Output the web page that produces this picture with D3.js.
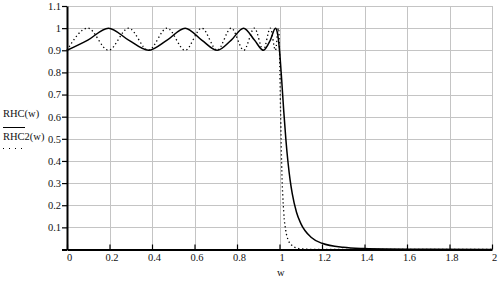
<!DOCTYPE html>
<html>
<head>
<meta charset="utf-8">
<script src="https://cdn.jsdelivr.net/npm/d3@7"></script>
<style>
  body { margin: 0; background: #fff; }
  svg { display: block; font-family: "Liberation Serif", "Times New Roman", serif; }
</style>
</head>
<body>
<div id="chart"></div>
<script>
// tick values and labels
var xTicks = [0, 0.2, 0.4, 0.6, 0.8, 1, 1.2, 1.4, 1.6, 1.8, 2];
var xTickLabels = ['0', '0.2', '0.4', '0.6', '0.8', '1', '1.2', '1.4', '1.6', '1.8', '2'];
var yTicks = [0, 0.1, 0.2, 0.3, 0.4, 0.5, 0.6, 0.7, 0.8, 0.9, 1, 1.1];
var yTickLabels = ['', '0.1', '0.2', '0.3', '0.4', '0.5', '0.6', '0.7', '0.8', '0.9', '1', '1.1'];

// RHC(w) - solid curve
var rhcW = [0, 0.098, 0.195, 0.290, 0.383, 0.471, 0.556, 0.634, 0.707, 0.773, 0.831, 0.882,
  0.924, 0.957, 0.981, 0.99, 0.995, 1.0, 1.01, 1.02, 1.03, 1.04, 1.05, 1.06, 1.08, 1.1,
  1.15, 1.2, 1.3, 1.4, 1.5, 1.7, 2.0];
var rhcVals = [0.9, 0.946, 1, 0.946, 0.9, 0.946, 1, 0.946, 0.9, 0.946, 1, 0.946,
  0.9, 0.946, 1, 0.98, 0.948, 0.9, 0.77, 0.625, 0.497, 0.394, 0.313, 0.252, 0.168, 0.118,
  0.054, 0.028, 0.0097, 0.004, 0.002, 0.001, 0];

// RHC2(w) - dotted curve
var rhc2W = [0, 0.098, 0.195, 0.290, 0.383, 0.471, 0.556, 0.634, 0.707, 0.773, 0.832, 0.882,
  0.924, 0.957, 0.981, 0.995, 0.998, 1.0, 1.005, 1.01, 1.02, 1.03, 1.04, 1.06, 1.08, 1.1,
  1.2, 1.4, 2.0];
var rhc2Vals = [0.9, 1, 0.9, 1, 0.9, 1, 0.9, 1, 0.9, 1, 0.9, 1,
  0.9, 1, 0.9, 1, 0.969, 0.9, 0.625, 0.39, 0.167, 0.083, 0.045, 0.017, 0.007, 0.003,
  0, 0, 0];

var legendLabels = ['RHC(w)', 'RHC2(w)'];
var xLabel = 'w';

var width = 500, height = 281;
var margin = { top: 6, right: 8, bottom: 31.5, left: 67 };

var svg = d3.select('#chart').append('svg')
  .attr('width', width)
  .attr('height', height);

var x = d3.scaleLinear().domain([0, 2]).range([margin.left, width - margin.right]);
var y = d3.scaleLinear().domain([0, 1.1]).range([height - margin.bottom, margin.top]);

function crisp(v) { return Math.round(v) + 0.5; }

// grid
var grid = svg.append('g').attr('stroke', '#c4c4c4').attr('stroke-width', 1);
grid.selectAll('line.v').data(xTicks.slice(1)).enter().append('line')
  .attr('x1', function(d) { return crisp(x(d)); })
  .attr('x2', function(d) { return crisp(x(d)); })
  .attr('y1', y(1.1)).attr('y2', y(0));
grid.selectAll('line.h').data(yTicks.slice(1)).enter().append('line')
  .attr('x1', x(0)).attr('x2', x(2))
  .attr('y1', function(d) { return crisp(y(d)); })
  .attr('y2', function(d) { return crisp(y(d)); });

// curves
function series(ws, vs) {
  return ws.map(function(w, i) { return [w, vs[i]]; });
}
var line = d3.line()
  .x(function(d) { return x(d[0]); })
  .y(function(d) { return y(d[1]); })
  .curve(d3.curveMonotoneX);

svg.append('path')
  .attr('d', line(series(rhc2W, rhc2Vals)))
  .attr('fill', 'none').attr('stroke', '#000')
  .attr('stroke-width', 1.3).attr('stroke-dasharray', '1.3,2.7');

svg.append('path')
  .attr('d', line(series(rhcW, rhcVals)))
  .attr('fill', 'none').attr('stroke', '#000')
  .attr('stroke-width', 1.5);

// axes
var xAxis = d3.axisBottom(x)
  .tickValues(xTicks)
  .tickFormat(function(d, i) { return xTickLabels[i]; })
  .tickSize(-5).tickSizeOuter(0).tickPadding(4);
var gx = svg.append('g').attr('transform', 'translate(0,' + y(0) + ')').call(xAxis);

var yAxis = d3.axisLeft(y)
  .tickValues(yTicks)
  .tickFormat(function(d, i) { return yTickLabels[i]; })
  .tickSize(5).tickSizeOuter(0).tickPadding(1);
var gy = svg.append('g').attr('transform', 'translate(' + x(0) + ',0)').call(yAxis);

[gx, gy].forEach(function(g) {
  g.select('.domain').attr('stroke', '#000').attr('stroke-width', 2);
  g.selectAll('.tick line').attr('stroke', '#000').attr('stroke-width', 1.2);
  g.selectAll('.tick text').attr('fill', '#111').style('font-size', '10.5px')
    .style('font-family', '"Liberation Serif", "Times New Roman", serif');
});
gx.selectAll('.tick text').attr('dx', 2);
gy.selectAll('.tick line').filter(function(d) { return d === 0; }).attr('stroke-width', 2);

// axis label
svg.append('text')
  .attr('x', x(1.006)).attr('y', 276)
  .attr('text-anchor', 'middle')
  .style('font-size', '10.5px').attr('fill', '#111')
  .text(xLabel);

// legend
var legend = svg.append('g');
legend.append('text').attr('x', 3).attr('y', 117)
  .style('font-size', '10.5px').attr('fill', '#111').text(legendLabels[0]);
legend.append('line').attr('x1', 3).attr('x2', 25).attr('y1', 127.5).attr('y2', 127.5)
  .attr('stroke', '#000').attr('stroke-width', 1);
legend.append('text').attr('x', 3).attr('y', 140)
  .style('font-size', '10.5px').attr('fill', '#111').text(legendLabels[1]);
legend.append('line').attr('x1', 3).attr('x2', 23).attr('y1', 148.5).attr('y2', 148.5)
  .attr('stroke', '#000').attr('stroke-width', 1).attr('stroke-dasharray', '1,5');
</script>
</body>
</html>
